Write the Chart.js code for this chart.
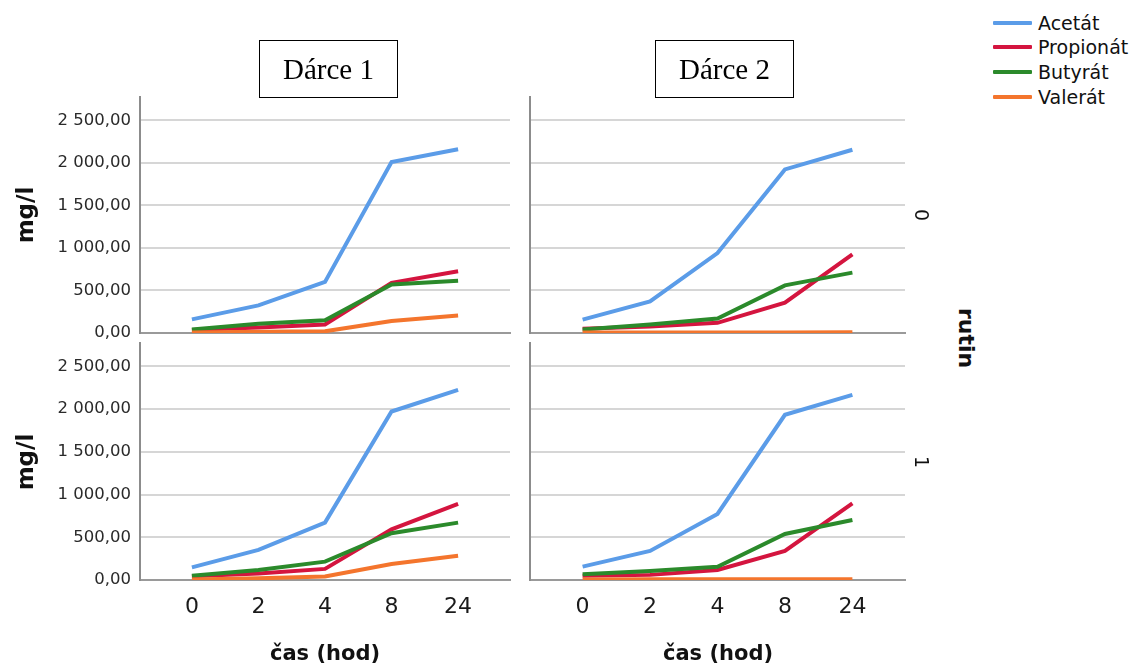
<!DOCTYPE html>
<html><head><meta charset="utf-8">
<script src="https://cdn.jsdelivr.net/npm/chart.js@4.4.1/dist/chart.umd.min.js"></script>
<style>
html,body{margin:0;padding:0;background:#fff;}
#wrap{position:relative;width:1135px;height:666px;overflow:hidden;font-family:"DejaVu Sans",sans-serif;}
canvas{position:absolute;}
.t{position:absolute;white-space:nowrap;transform:translate(-50%,-50%);color:#111;}
.box{position:absolute;border:1px solid #000;font-family:"Liberation Serif",serif;font-size:29px;display:flex;align-items:center;justify-content:center;color:#000;box-sizing:border-box;}
.lg{position:absolute;left:993px;width:39px;height:4px;border-radius:1px;}
.lt{position:absolute;left:1038px;font-size:19px;color:#111;transform:translateY(-50%);white-space:nowrap;}
</style></head>
<body><div id="wrap">
<canvas id="c1" width="515" height="260" style="left:0;top:90px"></canvas>
<canvas id="c2" width="400" height="260" style="left:515px;top:90px"></canvas>
<canvas id="c3" width="515" height="331" style="left:0;top:335px"></canvas>
<canvas id="c4" width="400" height="331" style="left:515px;top:335px"></canvas>
</div>
<script>
// ---- data ----
const categories = ['0', '2', '4', '8', '24'];
const seriesNames = ['Acetát', 'Propionát', 'Butyrát', 'Valerát'];
const seriesColors = ['#5b9ce8', '#d4153f', '#2b8a2b', '#f4752d'];
const yTickValues = [0, 500, 1000, 1500, 2000, 2500];
const panelTitles = ['Dárce 1', 'Dárce 2'];
const rowLabels = ['0', '1'];

// Dárce 1, rutin 0
const d1r0Acetat    = [160, 325, 600, 2010, 2160];
const d1r0Propionat = [35, 65, 100, 590, 725];
const d1r0Butyrat   = [40, 110, 150, 570, 615];
const d1r0Valerat   = [5, 15, 20, 140, 205];
// Dárce 2, rutin 0
const d2r0Acetat    = [157, 372, 940, 1924, 2155];
const d2r0Propionat = [50, 75, 120, 357, 925];
const d2r0Butyrat   = [40, 100, 170, 560, 710];
const d2r0Valerat   = [5, 5, 5, 5, 10];
// Dárce 1, rutin 1
const d1r1Acetat    = [148, 352, 672, 1973, 2227];
const d1r1Propionat = [45, 75, 130, 594, 890];
const d1r1Butyrat   = [50, 117, 215, 547, 672];
const d1r1Valerat   = [5, 20, 40, 187, 285];
// Dárce 2, rutin 1
const d2r1Acetat    = [156, 340, 773, 1934, 2168];
const d2r1Propionat = [50, 60, 117, 340, 898];
const d2r1Butyrat   = [66, 105, 156, 539, 703];
const d2r1Valerat   = [5, 8, 10, 8, 10];

// ---- helpers ----
function fmtNum(v){
  const parts = v.toFixed(2).split('.');
  const intPart = parts[0].replace(/\B(?=(\d{3})+(?!\d))/g, ' ');
  return intPart + ',' + parts[1];
}

function makeChart(id, values, o){
  const ctx = document.getElementById(id);
  return new Chart(ctx, {
    type: 'line',
    data: {
      datasets: seriesNames.map((n, k) => ({
        label: n,
        data: values[k].map((v, i) => ({x: i, y: v})),
        borderColor: seriesColors[k],
        backgroundColor: seriesColors[k],
        borderWidth: 4,
        pointRadius: 0,
        fill: false,
        tension: 0,
        order: 4 - k
      }))
    },
    options: {
      responsive: false,
      animation: false,
      events: [],
      layout: {padding: o.pad},
      plugins: {legend: {display: false}, tooltip: {enabled: false}},
      scales: {
        x: {
          type: 'linear',
          min: -0.78, max: 4.78,
          afterBuildTicks: s => { s.ticks = categories.map((c, i) => ({value: i})); },
          afterFit: s => { s.height = o.xh; s.paddingLeft = 0; s.paddingRight = 0; },
          ticks: {
            display: o.showX,
            autoSkip: false,
            maxRotation: 0,
            callback: v => categories[v],
            font: {family: 'DejaVu Sans', size: 22},
            color: '#1a1a1a',
            padding: 14
          },
          grid: {display: false, drawTicks: false},
          border: {display: true, color: '#9a9a9a', width: 2}
        },
        y: {
          type: 'linear',
          min: 0, max: 2775,
          afterBuildTicks: s => { s.ticks = yTickValues.map(v => ({value: v})); },
          afterFit: s => { s.width = o.yw; s.paddingTop = 0; s.paddingBottom = 0; },
          ticks: {
            display: o.showY,
            callback: v => fmtNum(v),
            font: {family: 'DejaVu Sans', size: 16.5},
            color: '#2a2a2a',
            padding: 9
          },
          grid: {
            color: c => (c.tick && c.tick.value === 0) ? '#9a9a9a' : '#d6d6d6',
            lineWidth: 2,
            drawTicks: false
          },
          border: {display: true, color: '#8c8c8c', width: 2}
        }
      }
    }
  });
}

makeChart('c1', [d1r0Acetat, d1r0Propionat, d1r0Butyrat, d1r0Valerat],
  {pad: {top: 7, right: 5, bottom: 17, left: 0}, xh: 0, yw: 140, showX: false, showY: true});
makeChart('c2', [d2r0Acetat, d2r0Propionat, d2r0Butyrat, d2r0Valerat],
  {pad: {top: 7, right: 10, bottom: 17, left: 0}, xh: 0, yw: 15, showX: false, showY: false});
makeChart('c3', [d1r1Acetat, d1r1Propionat, d1r1Butyrat, d1r1Valerat],
  {pad: {top: 8, right: 5, bottom: 0, left: 0}, xh: 86, yw: 140, showX: true, showY: true});
makeChart('c4', [d2r1Acetat, d2r1Propionat, d2r1Butyrat, d2r1Valerat],
  {pad: {top: 8, right: 10, bottom: 0, left: 0}, xh: 86, yw: 15, showX: true, showY: false});

// ---- text decorations ----
const wrap = document.getElementById('wrap');
function addText(txt, x, y, style){
  const d = document.createElement('div');
  d.className = 't';
  d.textContent = txt;
  d.style.left = x + 'px';
  d.style.top = y + 'px';
  Object.assign(d.style, style || {});
  wrap.appendChild(d);
  return d;
}
// panel title boxes
const boxLefts = [259, 655];
panelTitles.forEach((t, i) => {
  const b = document.createElement('div');
  b.className = 'box';
  b.textContent = t;
  b.style.left = boxLefts[i] + 'px';
  b.style.top = '40px';
  b.style.width = '139px';
  b.style.height = '58px';
  wrap.appendChild(b);
});
// y axis titles
addText('mg/l', 25, 215, {fontWeight: 'bold', fontSize: '23px', transform: 'translate(-50%,-50%) rotate(-90deg)'});
addText('mg/l', 25, 462, {fontWeight: 'bold', fontSize: '23px', transform: 'translate(-50%,-50%) rotate(-90deg)'});
// x axis titles
addText('čas (hod)', 325, 653, {fontWeight: 'bold', fontSize: '21px'});
addText('čas (hod)', 718, 653, {fontWeight: 'bold', fontSize: '21px'});
// row labels
addText(rowLabels[0], 922, 215, {fontSize: '19px', transform: 'translate(-50%,-50%) rotate(90deg)'});
addText(rowLabels[1], 922, 462, {fontSize: '19px', transform: 'translate(-50%,-50%) rotate(90deg)'});
addText('rutin', 966, 338, {fontWeight: 'bold', fontSize: '22px', transform: 'translate(-50%,-50%) rotate(90deg)'});
// legend
const legendY = [23, 47, 72, 97];
seriesNames.forEach((n, k) => {
  const sw = document.createElement('div');
  sw.className = 'lg';
  sw.style.top = (legendY[k] - 2) + 'px';
  sw.style.background = seriesColors[k];
  wrap.appendChild(sw);
  const lt = document.createElement('div');
  lt.className = 'lt';
  lt.textContent = n;
  lt.style.top = legendY[k] + 'px';
  wrap.appendChild(lt);
});
</script>
</body></html>
